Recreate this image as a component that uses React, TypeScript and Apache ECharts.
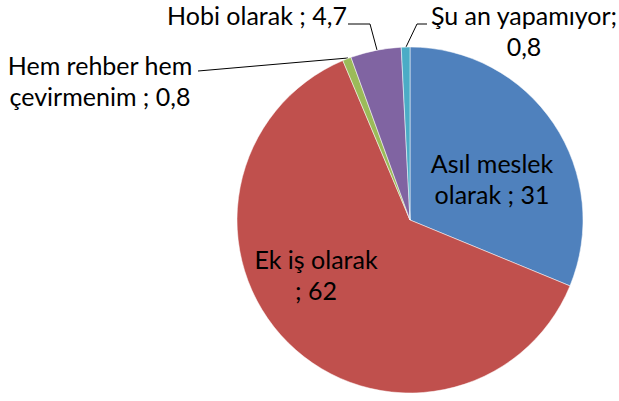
import React, { useEffect, useRef } from "react";
import * as echarts from "echarts";

const categories = [
  "Asıl meslek\nolarak",
  "Ek iş olarak",
  "Hem rehber hem\nçevirmenim",
  "Hobi olarak",
  "Şu an yapamıyor",
];
const values = [31, 62, 0.8, 4.7, 0.8];
const separators = [" ; ", "\n; ", " ; ", " ; ", ";\n"];
const colors = ["#4F81BD", "#C0504D", "#9BBB59", "#8064A2", "#4BACC6"];

const labelAnchors: [number, number][] = [
  [492, 178],
  [316, 274],
  [100, 80],
  [257, 15],
  [524, 30],
];
const leaderLines: ([number, number][] | null)[] = [
  null,
  null,
  [
    [198, 71],
    [348, 58],
  ],
  [
    [348, 24],
    [370, 24],
    [377, 50],
  ],
  [
    [427, 24],
    [417, 24],
    [406, 47],
  ],
];

export default function App() {
  const ref = useRef<HTMLDivElement>(null);
  useEffect(() => {
    if (!ref.current) return;
    const chart = echarts.init(ref.current, null, { renderer: "svg" });
    const fmt = (v: number) => String(v).replace(".", ",");
    chart.setOption({
      animation: false,
      backgroundColor: "#ffffff",
      series: [
        {
          type: "pie",
          center: [410, 220],
          radius: 173,
          startAngle: 90,
          clockwise: true,
          avoidLabelOverlap: false,
          itemStyle: { borderColor: "#ffffff", borderWidth: 0.5 },
          label: {
            color: "#000000",
            fontFamily: "Lato, sans-serif",
            fontSize: 25,
            lineHeight: 31,
            align: "center",
            formatter: (p: any) =>
              p.name + separators[p.dataIndex] + fmt(values[p.dataIndex]),
          },
          labelLine: {
            show: true,
            lineStyle: { color: "#000000", width: 1 },
          },
          labelLayout: (params: any) => {
            const i = params.dataIndex;
            const res: any = {
              x: labelAnchors[i][0],
              y: labelAnchors[i][1],
              align: "center",
              verticalAlign: "middle",
            };
            if (leaderLines[i]) res.labelLinePoints = leaderLines[i];
            return res;
          },
          data: categories.map((name, i) => ({
            name,
            value: values[i],
            itemStyle: { color: colors[i] },
            label: { position: leaderLines[i] ? "outside" : "inside" },
            labelLine: { show: !!leaderLines[i] },
          })),
        },
      ],
    });
    return () => chart.dispose();
  }, []);
  return (
    <div
      ref={ref}
      style={{ position: "fixed", left: 0, top: 0, width: 619, height: 401 }}
    />
  );
}
